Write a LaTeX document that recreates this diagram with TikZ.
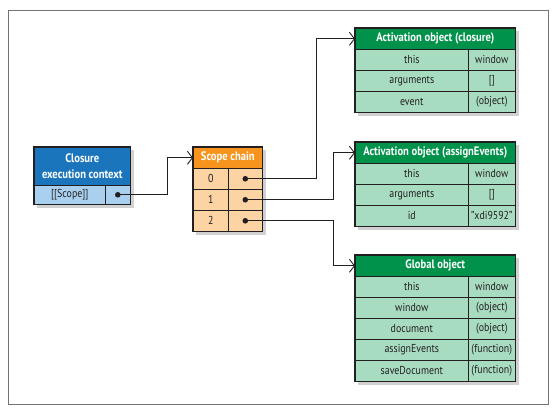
\documentclass[tikz,border=0pt]{standalone}
\usepackage{fontspec}
\setmainfont{PT Sans}[FakeStretch=0.86]
\usetikzlibrary{arrows.meta,calc,backgrounds}
\definecolor{blueH}{HTML}{1B75BC}
\definecolor{blueR}{HTML}{A9D1EF}
\definecolor{orangeH}{HTML}{F7941D}
\definecolor{orangeR}{HTML}{FCD4A4}
\definecolor{greenH}{HTML}{00924A}
\definecolor{greenR}{HTML}{A8DCC0}
\definecolor{txt}{HTML}{231F20}
\begin{document}
\begin{tikzpicture}[x=1pt,y=-1pt,
  font=\fontsize{11.5}{13}\selectfont,
  cell/.style={draw=txt, line width=0.6pt, anchor=north west, inner sep=0pt, minimum height=21pt, text=txt},
  hdr/.style={cell, text=white, font=\fontsize{12.3}{15.5}\selectfont\bfseries},
  gh/.style={hdr, fill=greenH, minimum width=160pt},
  gk/.style={cell, fill=greenR, minimum width=113pt},
  gv/.style={cell, fill=greenR, minimum width=47pt},
  sh/.style={hdr, fill=orangeH, minimum width=69pt},
  sk/.style={cell, fill=orangeR, minimum width=35pt},
  sv/.style={cell, fill=orangeR, minimum width=34pt},
  outer/.style={draw=txt, line width=1.2pt},
  shade/.style={fill=black, opacity=0.18},
  conn/.style={draw=txt, line width=0.9pt, -{Straight Barb[length=5pt,width=13pt,line width=0.9pt]}},
  dotc/.style={fill=txt}
]
\useasboundingbox (0,0) rectangle (558,414);
\draw[black!55, line width=1pt] (8,11) rectangle (548,405);

% Closure execution context
\node[hdr, fill=blueH, minimum width=96pt, minimum height=38pt, align=center] (ch) at (34,147) {Closure\\execution context};
\node[cell, fill=blueR, minimum width=71pt, minimum height=19pt] (ck) at (34,185) {[[Scope]]};
\node[cell, fill=blueR, minimum width=25pt, minimum height=19pt] (cv) at (105,185) {};

% Scope chain
\node[sh] (sch) at (193,147) {Scope chain};
\node[sk] (s0k) at (193,168) {0}; \node[sv] (s0v) at (228,168) {};
\node[sk] (s1k) at (193,189) {1}; \node[sv] (s1v) at (228,189) {};
\node[sk] (s2k) at (193,210) {2}; \node[sv] (s2v) at (228,210) {};

% Activation object (closure)
\node[gh] (ach) at (355,28) {Activation object (closure)};
\node[gk] (ac1k) at (355,49) {this};      \node[gv] (ac1v) at (468,49) {window};
\node[gk] (ac2k) at (355,70) {arguments}; \node[gv] (ac2v) at (468,70) {[]};
\node[gk] (ac3k) at (355,91) {event};     \node[gv] (ac3v) at (468,91) {(object)};

% Activation object (assignEvents)
\node[gh] (aah) at (355,142) {Activation object (assignEvents)};
\node[gk] (aa1k) at (355,163) {this};      \node[gv] (aa1v) at (468,163) {window};
\node[gk] (aa2k) at (355,184) {arguments}; \node[gv] (aa2v) at (468,184) {[]};
\node[gk] (aa3k) at (355,205) {id};        \node[gv] (aa3v) at (468,205) {"xdi9592"};

% Global object
\node[gh] (goh) at (355,255) {Global object};
\node[gk] (go1k) at (355,276) {this};         \node[gv] (go1v) at (468,276) {window};
\node[gk] (go2k) at (355,297) {window};       \node[gv] (go2v) at (468,297) {(object)};
\node[gk] (go3k) at (355,318) {document};     \node[gv] (go3v) at (468,318) {(object)};
\node[gk] (go4k) at (355,339) {assignEvents}; \node[gv] (go4v) at (468,339) {(function)};
\node[gk] (go5k) at (355,360) {saveDocument}; \node[gv] (go5v) at (468,360) {(function)};

% outer borders
\draw[outer] (ch.north west) rectangle (cv.south east);
\draw[outer] (sch.north west) rectangle (s2v.south east);
\draw[outer] (ach.north west) rectangle (ac3v.south east);
\draw[outer] (aah.north west) rectangle (aa3v.south east);
\draw[outer] (goh.north west) rectangle (go5v.south east);

% shadows
\begin{scope}[on background layer]
\fill[shade] ($(ch.north west)+(3,3)$) rectangle ($(cv.south east)+(3,3)$);
\fill[shade] ($(sch.north west)+(3,3)$) rectangle ($(s2v.south east)+(3,3)$);
\fill[shade] ($(ach.north west)+(3,3)$) rectangle ($(ac3v.south east)+(3,3)$);
\fill[shade] ($(aah.north west)+(3,3)$) rectangle ($(aa3v.south east)+(3,3)$);
\fill[shade] ($(goh.north west)+(3,3)$) rectangle ($(go5v.south east)+(3,3)$);
\end{scope}

% bend points
\coordinate (bc) at (167,0);
\coordinate (b0) at (316,0);
\coordinate (b1) at (333,0);

% connectors
\draw[conn] (cv.center) -- (cv.center -| bc) |- (sch.west);
\draw[conn] (s0v.center) -- (s0v.center -| b0) |- (ach.west);
\draw[conn] (s1v.center) -- (s1v.center -| b1) |- (aah.west);
\draw[conn] (s2v.center) -- (s2v.center -| b1) |- (goh.west);

% dots
\fill[dotc] (cv.center) circle (2.8pt);
\fill[dotc] (s0v.center) circle (2.8pt);
\fill[dotc] (s1v.center) circle (2.8pt);
\fill[dotc] (s2v.center) circle (2.8pt);
\end{tikzpicture}
\end{document}
